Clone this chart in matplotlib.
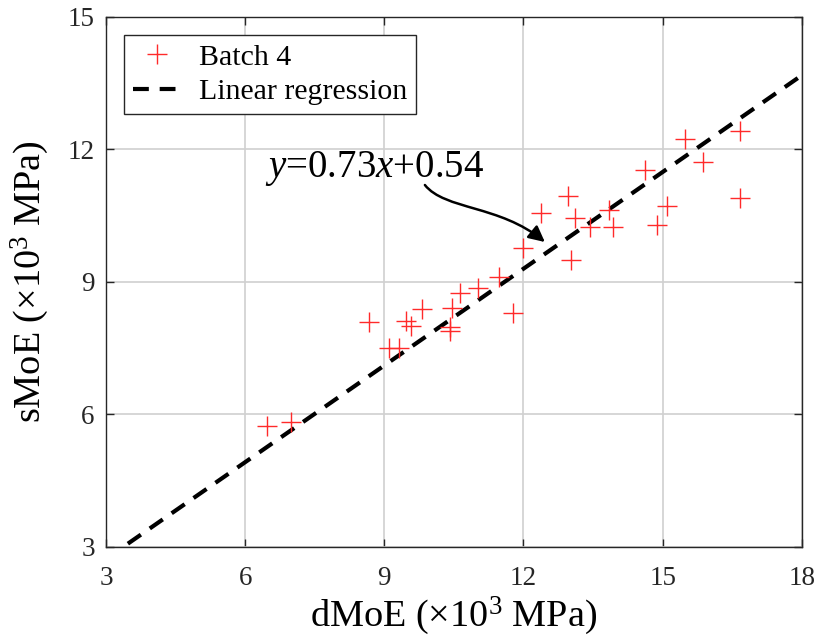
"""Recreate the dMoE vs sMoE scatter with linear regression."""

import matplotlib

matplotlib.use("Agg")

import matplotlib.pyplot as plt
import numpy as np
from matplotlib.patches import FancyArrowPatch
from matplotlib.path import Path

plt.rcParams["font.family"] = ["Liberation Serif", "DejaVu Serif"]
plt.rcParams["mathtext.fontset"] = "custom"
plt.rcParams["mathtext.rm"] = "Liberation Serif"
plt.rcParams["mathtext.it"] = "Liberation Serif:italic"

# measured values (x10^3 MPa)
dmoe = [6.48, 6.98, 8.67, 9.11, 9.32, 9.47, 9.57, 9.82, 10.41, 10.41,
        10.47, 10.63, 11.02, 11.48, 11.78, 11.98, 12.37, 12.96, 13.03, 13.12,
        13.43, 13.85, 13.93, 14.62, 14.87, 15.10, 15.48, 15.86, 16.66, 16.66]
smoe = [5.73, 5.84, 8.10, 7.50, 7.50, 8.12, 8.00, 8.39, 7.99, 7.88,
        8.40, 8.74, 8.86, 9.11, 8.29, 9.78, 10.57, 10.95, 9.50, 10.46,
        10.24, 10.63, 10.24, 11.54, 10.29, 10.73, 12.24, 11.71, 12.43, 10.90]

slope = 0.73
intercept = 0.54
ticks = [3, 6, 9, 12, 15, 18]
yticks = [3, 6, 9, 12, 15]


def main():
    fig = plt.figure(figsize=(8.19, 6.39), dpi=100)
    ax = fig.add_axes([0.1294, 0.144, 0.8496, 0.8294])

    ax.plot(dmoe, smoe, "+", color="#ff2a2a", markersize=15, markeredgewidth=1.0,
            label="Batch 4", zorder=3)
    xs = np.array([3.0, 18.0])
    ax.plot(xs, slope * xs + intercept, color="black", linewidth=3,
            linestyle=(0, (3.8, 2.6)), label="Linear regression", zorder=2)

    ax.set_xlim(3, 18)
    ax.set_ylim(3, 15)
    ax.set_xticks(ticks)
    ax.set_yticks(yticks)
    ax.tick_params(direction="in", length=6, width=1, labelsize=19.5,
                   top=True, right=True, colors="#262626")
    ax.tick_params(axis="x", pad=14)
    ax.tick_params(axis="y", pad=8)
    ax.grid(True, color="#d0d0d0", linewidth=1.2)
    ax.set_axisbelow(True)
    for sp in ax.spines.values():
        sp.set_color("#262626")
        sp.set_linewidth(1)

    ax.set_xlabel(r"dMoE ($\times$10$^3$ MPa)", fontsize=27.5, labelpad=2)
    ax.set_ylabel(r"sMoE ($\times$10$^3$ MPa)", fontsize=27.5, labelpad=12)

    # curved arrow from the equation to the regression line
    verts = [(9.875, 11.196), (10.306, 10.630), (11.491, 10.743), (12.461, 9.905)]
    codes = [Path.MOVETO, Path.CURVE4, Path.CURVE4, Path.CURVE4]
    arrow = FancyArrowPatch(path=Path(verts, codes), arrowstyle="-|>",
                            mutation_scale=24, color="black", lw=1.8,
                            transform=ax.transData, zorder=4)
    ax.add_patch(arrow)
    ax.text(6.43, 11.58, r"$y$=0.73$x$+0.54", fontsize=28, ha="left", va="center")

    leg = ax.legend(loc="upper left", fontsize=21.5, frameon=True, fancybox=False,
                    edgecolor="#262626", framealpha=1, borderpad=0.3,
                    labelspacing=0.25, handlelength=1.6, handletextpad=0.6,
                    borderaxespad=0, bbox_to_anchor=(0.0259, 0.966))
    leg.get_frame().set_linewidth(1)

    fig.savefig("out.png", dpi=100)


if __name__ == "__main__":
    main()
